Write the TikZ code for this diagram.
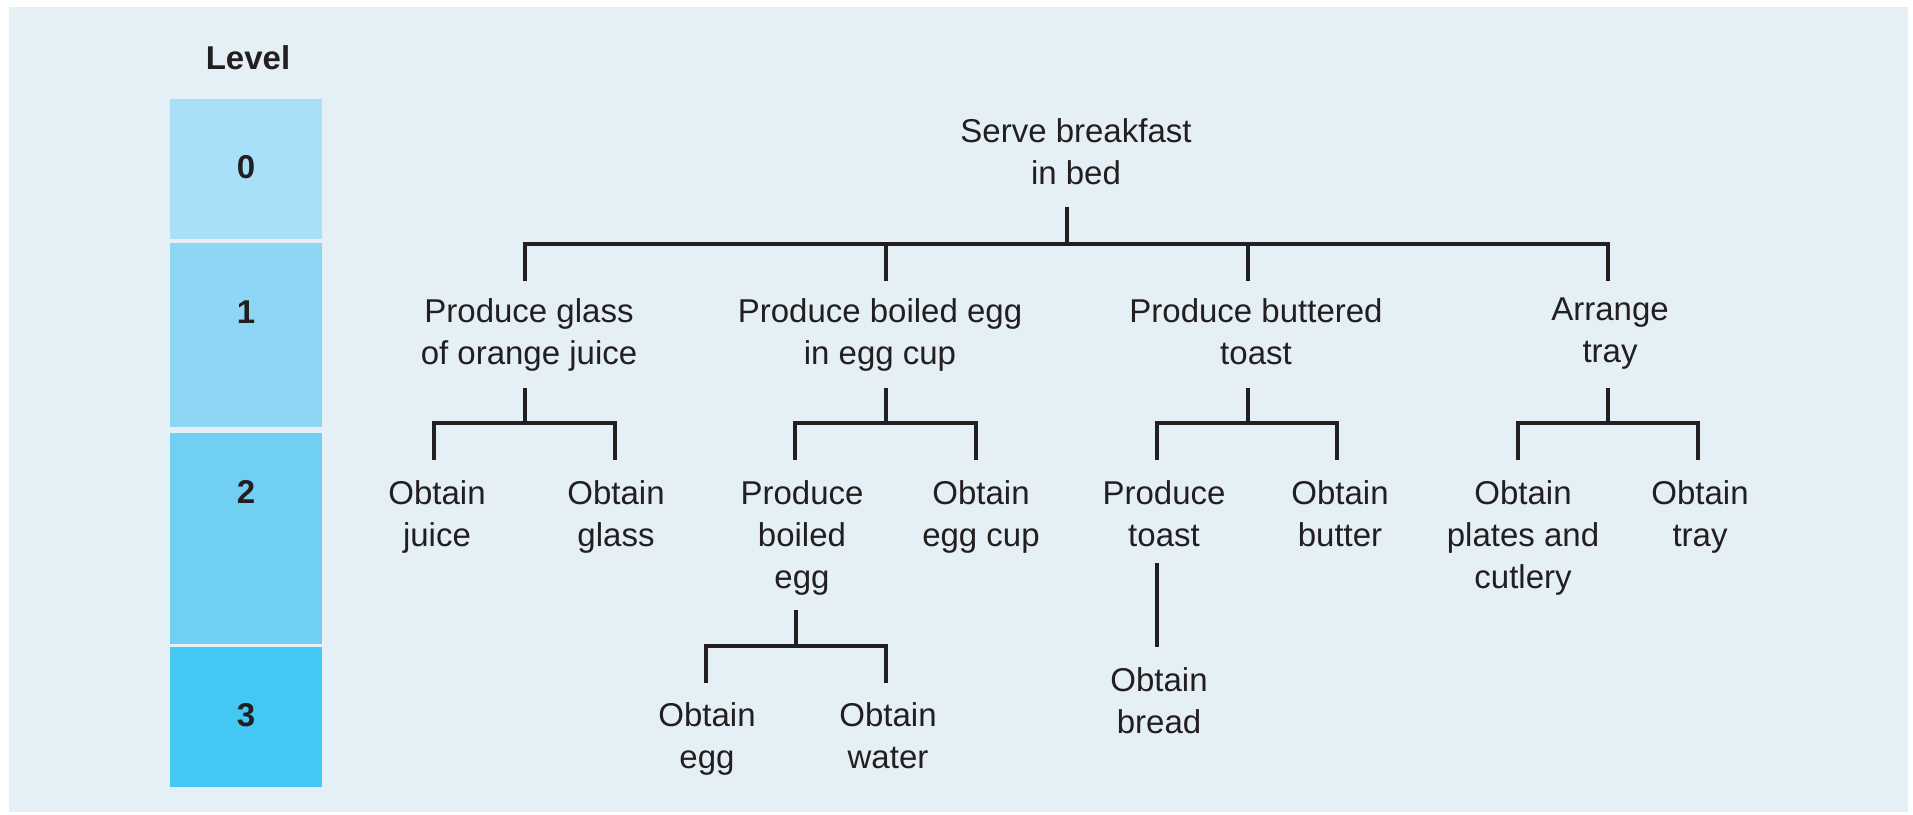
\documentclass[tikz,border=0pt]{standalone}
\usepackage{fontspec}
\setmainfont{Liberation Sans}
\definecolor{page}{HTML}{FFFFFF}
\definecolor{panel}{HTML}{E4EFF6}
\definecolor{ink}{HTML}{231F20}
\definecolor{lvA}{HTML}{A9E0F9}
\definecolor{lvB}{HTML}{8DD6F5}
\definecolor{lvC}{HTML}{70CFF3}
\definecolor{lvD}{HTML}{43C8F4}
\begin{document}
\begin{tikzpicture}[x=1pt,y=-1pt,
  lbl/.style={anchor=north, inner sep=0pt, align=center, text=ink, font=\fontsize{33}{42}\selectfont},
  lvltxt/.style={inner sep=0pt, text=ink, font=\fontsize{33}{38}\selectfont\bfseries},
  conn/.style={draw=ink, line width=4.5pt, line join=miter},
  lvlbox/.style={inner sep=0pt, outer sep=0pt}]
\useasboundingbox (0,0) rectangle (1913,814);
\fill[page] (0,0) rectangle (1913,814);
\fill[panel] (9,7) rectangle (1908,812);

% level column
\fill[lvA] (170,99) rectangle (322,239);
\fill[lvB] (170,243) rectangle (322,427);
\fill[lvC] (170,433) rectangle (322,644);
\fill[lvD] (170,647) rectangle (322,787);
\node[lvltxt] (lvl) at (248,58) {Level};
\node[lvltxt] (l0) at (246,167) {0};
\node[lvltxt] (l1) at (246,312) {1};
\node[lvltxt] (l2) at (246,492) {2};
\node[lvltxt] (l3) at (246,715) {3};

% level 0
\node[lbl] (root) at (1076,118) {Serve breakfast\\in bed};
% level 1
\node[lbl] (a) at (529,298) {Produce glass\\of orange juice};
\node[lbl] (b) at (880,298) {Produce boiled egg\\in egg cup};
\node[lbl] (c) at (1256,298) {Produce buttered\\toast};
\node[lbl] (d) at (1610,298) {Arrange\\tray};
% level 2
\node[lbl] (aa) at (437,480) {Obtain\\juice};
\node[lbl] (ab) at (616,480) {Obtain\\glass};
\node[lbl] (ba) at (802,480) {Produce\\boiled\\egg};
\node[lbl] (bb) at (981,480) {Obtain\\egg cup};
\node[lbl] (ca) at (1164,480) {Produce\\toast};
\node[lbl] (cb) at (1340,480) {Obtain\\butter};
\node[lbl] (da) at (1523,480) {Obtain\\plates and\\cutlery};
\node[lbl] (db) at (1700,480) {Obtain\\tray};
% level 3
\node[lbl] (baa) at (707,702) {Obtain\\egg};
\node[lbl] (bab) at (888,702) {Obtain\\water};
\node[lbl] (caa) at (1159,667) {Obtain\\bread};

% connector points
\coordinate (root-s) at (1067,207); \coordinate (root-j) at (1067,244);
\coordinate (a-t) at (525,281); \coordinate (b-t) at (886,281);
\coordinate (c-t) at (1248,281); \coordinate (d-t) at (1608,281);

\coordinate (a-s) at (525,388); \coordinate (a-j) at (525,423);
\coordinate (aa-t) at (434,460); \coordinate (ab-t) at (615,460);
\coordinate (b-s) at (886,388); \coordinate (b-j) at (886,423);
\coordinate (ba-t) at (795,460); \coordinate (bb-t) at (976,460);
\coordinate (c-s) at (1248,388); \coordinate (c-j) at (1248,423);
\coordinate (ca-t) at (1157,460); \coordinate (cb-t) at (1337,460);
\coordinate (d-s) at (1608,388); \coordinate (d-j) at (1608,423);
\coordinate (da-t) at (1518,460); \coordinate (db-t) at (1698,460);

\coordinate (ba-s) at (796,610); \coordinate (ba-j) at (796,646);
\coordinate (baa-t) at (706,683); \coordinate (bab-t) at (886,683);
\coordinate (ca-s) at (1157,563); \coordinate (caa-t) at (1157,647);

% level 0 -> 1
\draw[conn] (root-s) -- (root-j);
\draw[conn] (a-t) -- (a-t |- root-j) -- (d-t |- root-j) -- (d-t);
\draw[conn] (b-t) -- (b-t |- root-j);
\draw[conn] (c-t) -- (c-t |- root-j);
% level 1 -> 2
\draw[conn] (a-s) -- (a-j);
\draw[conn] (aa-t) -- (aa-t |- a-j) -- (ab-t |- a-j) -- (ab-t);
\draw[conn] (b-s) -- (b-j);
\draw[conn] (ba-t) -- (ba-t |- b-j) -- (bb-t |- b-j) -- (bb-t);
\draw[conn] (c-s) -- (c-j);
\draw[conn] (ca-t) -- (ca-t |- c-j) -- (cb-t |- c-j) -- (cb-t);
\draw[conn] (d-s) -- (d-j);
\draw[conn] (da-t) -- (da-t |- d-j) -- (db-t |- d-j) -- (db-t);
% level 2 -> 3
\draw[conn] (ba-s) -- (ba-j);
\draw[conn] (baa-t) -- (baa-t |- ba-j) -- (bab-t |- ba-j) -- (bab-t);
\draw[conn] (ca-s) -- (caa-t);
\end{tikzpicture}
\end{document}
